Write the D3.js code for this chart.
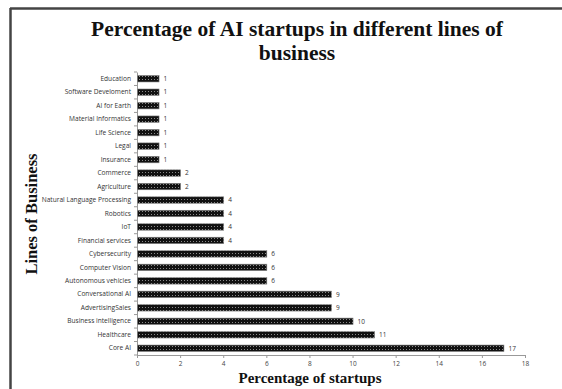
<!DOCTYPE html>
<html>
<head>
<meta charset="utf-8">
<script src="https://cdn.jsdelivr.net/npm/d3@7"></script>
<style>
  html, body { margin: 0; padding: 0; background: #fff; }
  svg { display: block; }
</style>
</head>
<body>
<svg id="chart" width="562" height="389"></svg>
<script>
// Lines of business, listed top to bottom
const categories = [
  "Education", "Software Develoment", "AI for Earth", "Material Informatics",
  "Life Science", "Legal", "Insurance", "Commerce", "Agriculture",
  "Natural Language Processing", "Robotics", "IoT", "Financial services",
  "Cybersecurity", "Computer Vision", "Autonomous vehicles",
  "Conversational AI", "AdvertisingSales", "Business intelligence",
  "Healthcare", "Core AI"
];
// Percentage of startups in each line of business
const values = [1, 1, 1, 1, 1, 1, 1, 2, 2, 4, 4, 4, 4, 6, 6, 6, 9, 9, 10, 11, 17];
const xTicks = [0, 2, 4, 6, 8, 10, 12, 14, 16, 18];
const titleLines = ["Percentage of AI startups in different lines of", "business"];
const xTitle = "Percentage of startups";
const yTitle = "Lines of Business";

const svg = d3.select("#chart");
const plot = { left: 137, right: 525, top: 72, bottom: 355 };

// Dotted fill used for the bars
const defs = svg.append("defs");
const pat = defs.append("pattern")
  .attr("id", "dots").attr("patternUnits", "userSpaceOnUse")
  .attr("width", 3).attr("height", 3);
pat.append("rect").attr("width", 3).attr("height", 3).attr("fill", "#111");
pat.append("rect").attr("x", 1).attr("y", 1).attr("width", 1).attr("height", 1).attr("fill", "#8a8a8a");

// Frame lines along top and left
svg.append("line").attr("x1", 10).attr("y1", 8.5).attr("x2", 562).attr("y2", 8.5)
  .attr("stroke", "#444").attr("stroke-width", 2.5);
svg.append("line").attr("x1", 10.5).attr("y1", 8).attr("x2", 10.5).attr("y2", 389)
  .attr("stroke", "#444").attr("stroke-width", 2.5);

const x = d3.scaleLinear().domain([0, 18]).range([plot.left, plot.right]);
const y = d3.scaleBand().domain(categories).range([plot.top, plot.bottom]).paddingInner(0.52).paddingOuter(0.26);

// X axis
const xAxis = svg.append("g").attr("transform", `translate(0,${plot.bottom})`)
  .call(d3.axisBottom(x).tickValues(xTicks).tickSize(3).tickPadding(3).tickFormat(d3.format("d")));
xAxis.select(".domain").attr("stroke", "#999");
xAxis.selectAll(".tick line").attr("stroke", "#999");
xAxis.selectAll("text").attr("font-family", "Open Sans, sans-serif").attr("font-size", 6.5).attr("fill", "#444");

// Y axis with ticks between categories
const yAxis = svg.append("g").attr("transform", `translate(${plot.left},0)`)
  .call(d3.axisLeft(y).tickSize(0).tickPadding(6));
yAxis.select(".domain").attr("stroke", "#999");
yAxis.selectAll("text").attr("font-family", "Open Sans, sans-serif").attr("font-size", 6.6).attr("fill", "#333");
const step = y.step();
yAxis.selectAll(".sep").data(d3.range(categories.length + 1)).join("line")
  .attr("class", "sep")
  .attr("x1", -3).attr("x2", 0)
  .attr("y1", i => plot.top + i * step).attr("y2", i => plot.top + i * step)
  .attr("stroke", "#999");

// Bars
svg.append("g").selectAll("rect").data(categories).join("rect")
  .attr("x", x(0) + 0.5)
  .attr("y", d => y(d))
  .attr("width", (d, i) => x(values[i]) - x(0))
  .attr("height", y.bandwidth())
  .attr("fill", "url(#dots)")
  .attr("stroke", "#888").attr("stroke-width", 0.6);

// Value labels
svg.append("g").selectAll("text").data(categories).join("text")
  .attr("x", (d, i) => x(values[i]) + 5)
  .attr("y", d => y(d) + y.bandwidth() / 2)
  .attr("dy", "0.35em")
  .attr("font-family", "Open Sans, sans-serif").attr("font-size", 6.5).attr("fill", "#333")
  .text((d, i) => values[i]);

// Title
svg.append("g").selectAll("text").data(titleLines).join("text")
  .attr("x", 297).attr("y", (d, i) => 36 + i * 24)
  .attr("text-anchor", "middle")
  .attr("font-family", "Liberation Serif, serif").attr("font-weight", "bold").attr("font-size", 21.5)
  .attr("fill", "#111")
  .text(d => d);

// Axis titles
svg.append("text").attr("x", 310).attr("y", 383).attr("text-anchor", "middle")
  .attr("font-family", "Liberation Serif, serif").attr("font-weight", "bold").attr("font-size", 15)
  .attr("fill", "#111").text(xTitle);
svg.append("text").attr("transform", "translate(37,214) rotate(-90)").attr("text-anchor", "middle")
  .attr("font-family", "Liberation Serif, serif").attr("font-weight", "bold").attr("font-size", 16.5)
  .attr("fill", "#111").text(yTitle);
</script>
</body>
</html>
